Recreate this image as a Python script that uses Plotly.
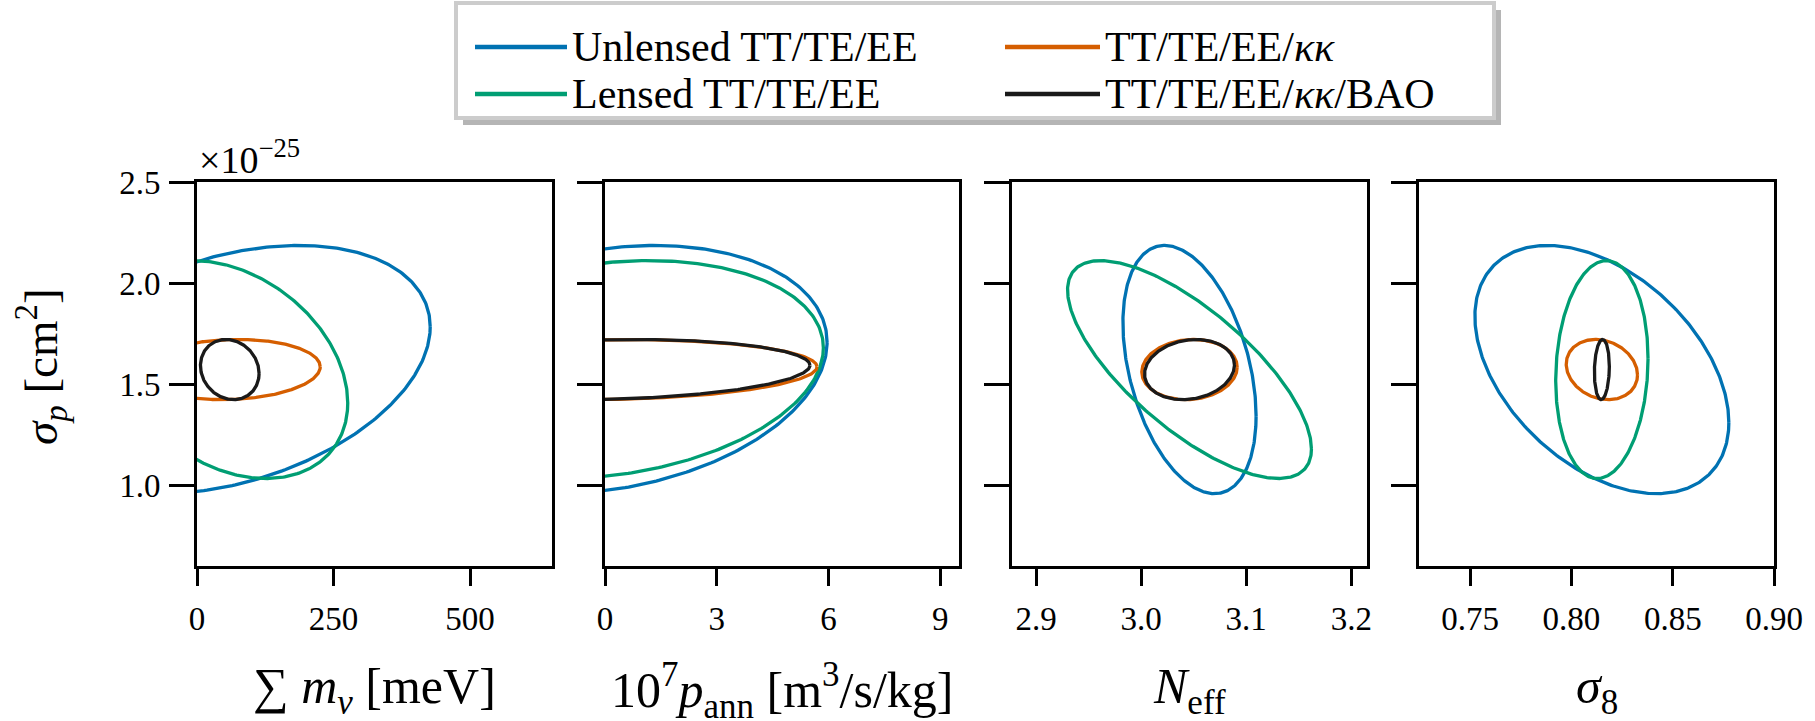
import numpy as np
import plotly.graph_objects as go

# ---------------- data ----------------
series_names = ["Unlensed TT/TE/EE", "Lensed TT/TE/EE",
                "TT/TE/EE/<i>κκ</i>", "TT/TE/EE/<i>κκ</i>/BAO"]
series_colors = ["#0072B2", "#009E73", "#D55E00", "#1a1a1a"]

# fiducial values (ellipse centres) for each panel's x parameter
fid_x = [60.0, 0.0, 3.046, 0.815]
# fiducial sigma_p in units of 1e-25 cm^2
fid_sigma_p = 1.572

# half-extent of each ellipse along sigma_p (same in every panel)
sigma_p_halfwidth = [0.614, 0.539, 0.149, 0.149]

# half-extent along each panel's x parameter  [sum m_nu, p_ann, N_eff, sigma_8]
unlensed_dx = [367.0, 5.96, 0.0634, 0.0627]
lensed_dx = [216.0, 5.86, 0.1161, 0.0228]
kk_dx = [165.6, 5.69, 0.0454, 0.0176]
kkbao_dx = [53.7, 5.50, 0.0428, 0.0037]

# correlation coefficient between x parameter and sigma_p
unlensed_corr = [0.344, 0.22, -0.375, -0.428]
lensed_corr = [-0.307, 0.20, -0.729, 0.10]
kk_corr = [0.09, 0.09, 0.08, -0.18]
kkbao_corr = [-0.13, 0.14, 0.15, 0.10]

series_dx = [unlensed_dx, lensed_dx, kk_dx, kkbao_dx]
series_corr = [unlensed_corr, lensed_corr, kk_corr, kkbao_corr]

# axes
x_ranges = [[0, 650], [0, 9.5], [2.877, 3.215], [0.7247, 0.90]]
x_tickvals = [[0, 250, 500], [0, 3, 6, 9], [2.9, 3.0, 3.1, 3.2], [0.75, 0.80, 0.85, 0.90]]
x_ticktext = [["0", "250", "500"], ["0", "3", "6", "9"],
              ["2.9", "3.0", "3.1", "3.2"], ["0.75", "0.80", "0.85", "0.90"]]
x_titles = ["∑ <i>m</i><sub><i>ν</i></sub> [meV]",
            "10<sup>7</sup><i>p</i><sub>ann</sub> [m<sup>3</sup>/s/kg]",
            "<i>N</i><sub>eff</sub>",
            "<i>σ</i><sub>8</sub>"]
y_range = [0.6, 2.5]
y_tickvals = [1.0, 1.5, 2.0, 2.5]
y_ticktext = ["1.0", "1.5", "2.0", "2.5"]
y_title = "<i>σ</i><sub><i>p</i></sub> [cm<sup>2</sup>]"
y_exponent = "×10<sup>−25</sup>"

# ---------------- layout geometry (pixels) ----------------
W, H = 1815, 721
FONT = "Liberation Serif"
panel_px = [(197, 552), (605, 959), (1012, 1367), (1419, 1774)]
plot_top, plot_bot = 182, 566


def px_x(p):
    return p / W


def px_y(p):
    return 1 - p / H


fig = go.Figure()

t = np.linspace(0, 2 * np.pi, 400)
for k in range(4):
    xa = "x" if k == 0 else f"x{k+1}"
    ya = "y" if k == 0 else f"y{k+1}"
    for s in range(4):
        dx = series_dx[s][k]
        dy = sigma_p_halfwidth[s]
        r = series_corr[s][k]
        xs = fid_x[k] + dx * np.cos(t)
        ys = fid_sigma_p + dy * (r * np.cos(t) + np.sqrt(1 - r * r) * np.sin(t))
        fig.add_trace(go.Scatter(x=xs, y=ys, mode="lines", xaxis=xa, yaxis=ya,
                                 line=dict(color=series_colors[s], width=3.3),
                                 name=series_names[s], showlegend=False,
                                 hoverinfo="skip"))

layout = dict(template="none", width=W, height=H, autosize=False,
              margin=dict(l=0, r=0, t=0, b=0, pad=0),
              paper_bgcolor="white", plot_bgcolor="white",
              font=dict(family=FONT, color="black", size=33),
              showlegend=False)

ydom = [px_y(plot_bot), px_y(plot_top)]
for k in range(4):
    xkey = "xaxis" if k == 0 else f"xaxis{k+1}"
    ykey = "yaxis" if k == 0 else f"yaxis{k+1}"
    yname = "y" if k == 0 else f"y{k+1}"
    xname = "x" if k == 0 else f"x{k+1}"
    layout[xkey] = dict(domain=[px_x(panel_px[k][0]), px_x(panel_px[k][1])],
                        anchor=yname, range=x_ranges[k], automargin=False,
                        tickmode="array", tickvals=x_tickvals[k], ticktext=x_ticktext[k],
                        showline=True, mirror=True, linecolor="black", linewidth=3,
                        ticks="outside", ticklen=17, tickwidth=2.5, tickcolor="black",
                        showgrid=False, zeroline=False,
                        tickfont=dict(family=FONT, size=33),
                        ticklabelstandoff=4)
    layout[ykey] = dict(domain=ydom, anchor=xname, range=y_range, automargin=False,
                        tickmode="array", tickvals=y_tickvals, ticktext=y_ticktext,
                        showticklabels=(k == 0),
                        showline=True, mirror=True, linecolor="black", linewidth=3,
                        ticks="outside", ticklen=25, tickwidth=2.5, tickcolor="black",
                        showgrid=False, zeroline=False,
                        tickfont=dict(family=FONT, size=33),
                        ticklabelstandoff=2)

annotations = []
for k in range(4):
    cx = (panel_px[k][0] + panel_px[k][1]) / 2
    annotations.append(dict(text=x_titles[k], x=px_x(cx), y=px_y(690),
                            xref="paper", yref="paper", showarrow=False,
                            xanchor="center", yanchor="middle",
                            font=dict(family=FONT, size=50)))
annotations.append(dict(text=y_title, x=px_x(41), y=px_y(367),
                        xref="paper", yref="paper", showarrow=False, textangle=-90,
                        xanchor="center", yanchor="middle",
                        font=dict(family=FONT, size=47)))
annotations.append(dict(text=y_exponent, x=px_x(197), y=px_y(183),
                        xref="paper", yref="paper", showarrow=False,
                        xanchor="left", yanchor="bottom",
                        font=dict(family=FONT, size=38)))

# ---------------- legend (drawn by hand, 2 x 2 like the reference) ----------------
shapes = []
lx0, lx1, ly0, ly1 = 456, 1494, 3, 118
shapes.append(dict(type="rect", xref="paper", yref="paper", layer="above",
                   x0=px_x(lx0 + 7), x1=px_x(lx1 + 7), y0=px_y(ly0 + 7), y1=px_y(ly1 + 7),
                   fillcolor="#b5b5b5", line=dict(width=0)))
shapes.append(dict(type="rect", xref="paper", yref="paper", layer="above",
                   x0=px_x(lx0), x1=px_x(lx1), y0=px_y(ly0), y1=px_y(ly1),
                   fillcolor="white", line=dict(color="#cccccc", width=4)))
legend_cols = [(475, 567, 570), (1005, 1100, 1103)]
legend_rows = [47, 94]
legend_slots = [(0, 0), (0, 1), (1, 0), (1, 1)]  # (col,row) for each series
for s in range(4):
    c, r = legend_slots[s]
    x0, x1, xt = legend_cols[c]
    yy = legend_rows[r]
    shapes.append(dict(type="line", xref="paper", yref="paper", layer="above",
                       x0=px_x(x0), x1=px_x(x1), y0=px_y(yy), y1=px_y(yy),
                       line=dict(color=series_colors[s], width=4.5)))
    annotations.append(dict(text=series_names[s], x=px_x(xt), y=px_y(yy),
                            xref="paper", yref="paper", showarrow=False,
                            xanchor="left", yanchor="middle",
                            font=dict(family=FONT, size=42)))

layout["annotations"] = annotations
layout["shapes"] = shapes
fig.update_layout(**layout)
fig.write_html("out.html")
